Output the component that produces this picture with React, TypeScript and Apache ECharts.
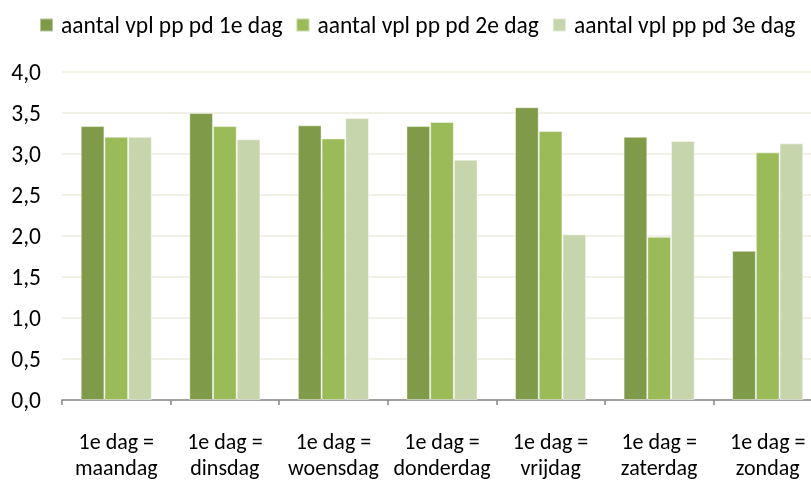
import React, { useEffect, useRef } from "react";
import * as echarts from "echarts";

const categories = [
  "1e dag =\nmaandag",
  "1e dag =\ndinsdag",
  "1e dag =\nwoensdag",
  "1e dag =\ndonderdag",
  "1e dag =\nvrijdag",
  "1e dag =\nzaterdag",
  "1e dag =\nzondag",
];
const seriesNames = [
  "aantal vpl pp pd 1e dag",
  "aantal vpl pp pd 2e dag",
  "aantal vpl pp pd 3e dag",
];
const day1 = [3.34, 3.5, 3.35, 3.34, 3.57, 3.21, 1.82];
const day2 = [3.21, 3.34, 3.19, 3.39, 3.28, 1.99, 3.02];
const day3 = [3.21, 3.18, 3.44, 2.93, 2.02, 3.16, 3.13];
const colors = ["#7f9a48", "#9bbb59", "#c7d5ad"];

const FONT = "Carlito, 'Liberation Sans', Arial, sans-serif";

export default function App() {
  const ref = useRef<HTMLDivElement>(null);
  useEffect(() => {
    if (!ref.current) return;
    const chart = echarts.init(ref.current, undefined, { renderer: "svg" });
    const values = [day1, day2, day3];
    chart.setOption({
      animation: false,
      color: colors,
      textStyle: { fontFamily: FONT },
      legend: {
        left: 39,
        top: 13,
        padding: 0,
        itemWidth: 13,
        itemHeight: 13,
        itemGap: 13,
        icon: "rect",
        data: seriesNames,
        textStyle: {
          fontFamily: FONT,
          fontSize: 23.5,
          lineHeight: 22,
          color: "#000",
          padding: [0, 0, 0, 3],
        },
      },
      grid: { left: 62, right: 0, top: 72, bottom: 80 },
      xAxis: {
        type: "category",
        data: categories,
        axisLine: { lineStyle: { color: "#868686", width: 1.5 } },
        axisTick: { show: true, length: 5, lineStyle: { color: "#868686", width: 1.5 } },
        axisLabel: {
          interval: 0,
          margin: 28,
          fontFamily: FONT,
          fontSize: 22,
          lineHeight: 26,
          color: "#000",
          align: "center",
        },
      },
      yAxis: {
        type: "value",
        min: 0,
        max: 4,
        interval: 0.5,
        axisLine: { show: false },
        axisTick: { show: false },
        splitLine: { lineStyle: { color: "#eeece1", width: 1.5 } },
        axisLabel: {
          margin: 21,
          fontFamily: FONT,
          fontSize: 23.5,
          color: "#000",
          formatter: (v: number) => v.toFixed(1).replace(".", ","),
        },
      },
      series: seriesNames.map((name, i) => ({
        name,
        type: "bar",
        data: values[i],
        barGap: "0%",
        barCategoryGap: "34.5%",
        itemStyle: {
          color: colors[i],
          borderColor: "rgba(255,255,255,0.45)",
          borderWidth: 1,
        },
      })),
    });
    return () => chart.dispose();
  }, []);
  return (
    <div
      ref={ref}
      style={{ position: "fixed", left: 0, top: 0, width: 822, height: 480 }}
    />
  );
}
